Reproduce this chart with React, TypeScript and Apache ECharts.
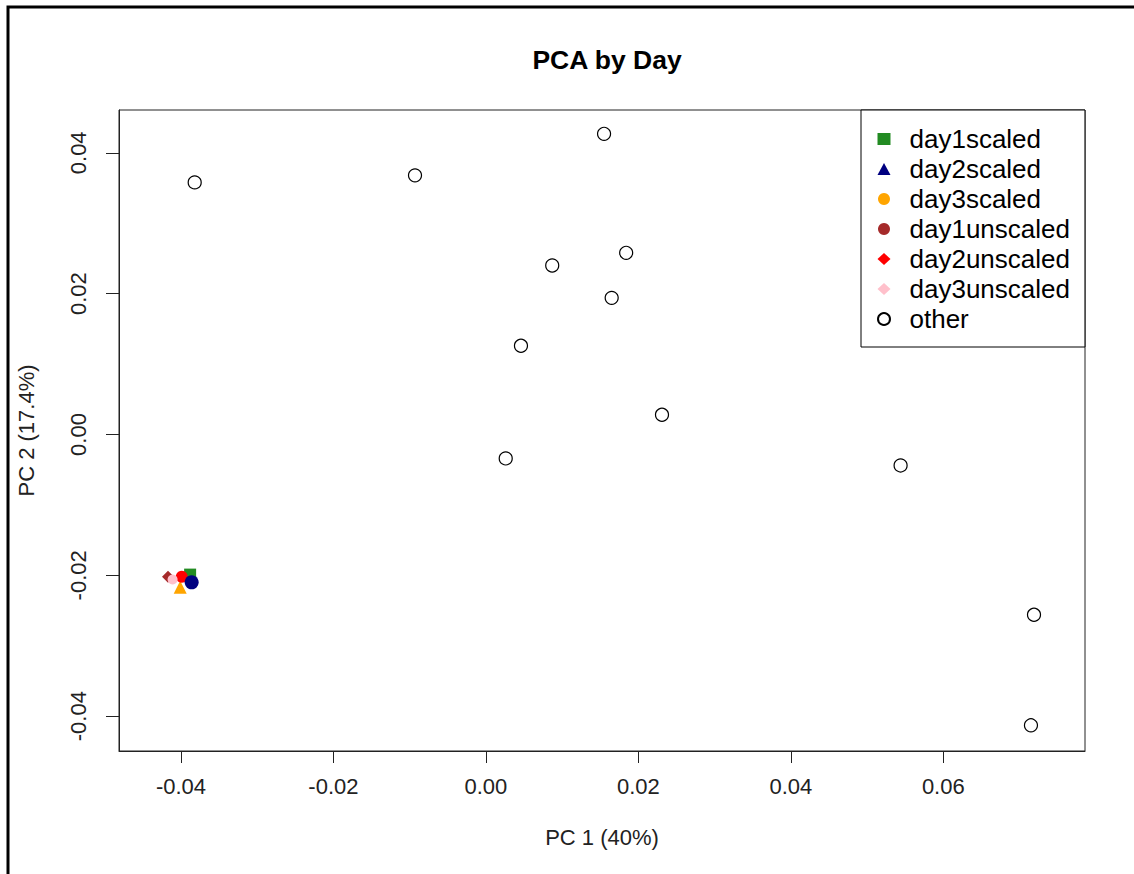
import React, { useEffect, useRef } from "react";
import * as echarts from "echarts";

const xTicks = [-0.04, -0.02, 0.0, 0.02, 0.04, 0.06];
const yTicks = [-0.04, -0.02, 0.0, 0.02, 0.04];

const otherX = [-0.0382, -0.0093, 0.0155, 0.0184, 0.0087, 0.0165, 0.0046, 0.0231, 0.0026, 0.0544, 0.0719, 0.0715];
const otherY = [0.0358, 0.0368, 0.0427, 0.0258, 0.024, 0.0194, 0.0126, 0.0028, -0.0034, -0.0044, -0.0256, -0.0413];

const groupNames = ["day1scaled", "day2scaled", "day3scaled", "day1unscaled", "day2unscaled", "day3unscaled"];
const groupX = [-0.0388, -0.0386, -0.0401, -0.0417, -0.0399, -0.0411];
const groupY = [-0.0199, -0.021, -0.0217, -0.0202, -0.0202, -0.0206];
const groupColors = ["#228B22", "#000080", "#FFA500", "#A52A2A", "#FF0000", "#FFC0CB"];
const plotSymbols = ["rect", "circle", "triangle", "diamond", "circle", "circle"];
const plotSizes = [12, 14, 13, 12, 12, 10];
const legendIcons = ["rect", "triangle", "circle", "circle", "diamond", "diamond"];
const drawOrder = [2, 0, 4, 3, 5, 1];

const FONT = "'Liberation Sans', Arial, sans-serif";

export default function App() {
  const ref = useRef<HTMLDivElement>(null);
  useEffect(() => {
    document.body.style.margin = "0";
    const chart = echarts.init(ref.current!, null, { renderer: "svg" });
    const groupSeries = drawOrder.map((i) => ({
      name: groupNames[i],
      type: "scatter",
      symbol: plotSymbols[i],
      symbolSize: plotSizes[i],
      itemStyle: { color: groupColors[i], opacity: 1 },
      data: [[groupX[i], groupY[i]]],
    }));
    const otherData = otherX.map((x, i) => [x, otherY[i]]);
    chart.setOption({
      animation: false,
      backgroundColor: "#fff",
      textStyle: { fontFamily: FONT },
      title: {
        text: "PCA by Day",
        left: 602,
        top: 41,
        textAlign: "center",
        textStyle: { fontFamily: FONT, fontSize: 26.5, fontWeight: "bold", color: "#000" },
      },
      grid: {
        left: 119,
        right: 49,
        top: 110,
        bottom: 123,
        show: true,
        borderColor: "#222",
        borderWidth: 1,
        containLabel: false,
      },
      xAxis: {
        type: "value",
        min: -0.04813,
        max: 0.07859,
        name: "PC 1 (40%)",
        nameLocation: "middle",
        nameGap: 75,
        nameTextStyle: { fontFamily: FONT, fontSize: 22, color: "#222" },
        axisLine: { show: true, onZero: false, lineStyle: { color: "#222" } },
        splitLine: { show: false },
        axisTick: { show: true, length: 12, customValues: xTicks, lineStyle: { color: "#222" } },
        axisLabel: {
          customValues: xTicks,
          margin: 24,
          fontFamily: FONT,
          fontSize: 22,
          color: "#222",
          formatter: (v: number) => v.toFixed(2),
        },
      },
      yAxis: {
        type: "value",
        min: -0.04495,
        max: 0.04608,
        name: "PC 2 (17.4%)",
        nameLocation: "middle",
        nameRotate: 90,
        nameGap: 82,
        nameTextStyle: { fontFamily: FONT, fontSize: 22, color: "#222" },
        axisLine: { show: true, onZero: false, lineStyle: { color: "#222" } },
        splitLine: { show: false },
        axisTick: { show: true, length: 13, customValues: yTicks, lineStyle: { color: "#222" } },
        axisLabel: {
          customValues: yTicks,
          rotate: 90,
          margin: 30,
          fontFamily: FONT,
          fontSize: 22,
          color: "#222",
          formatter: (v: number) => v.toFixed(2),
        },
      },
      legend: {
        orient: "vertical",
        left: 861,
        top: 110,
        padding: [14, 15, 13, 16],
        borderColor: "#000",
        borderWidth: 1,
        backgroundColor: "#fff",
        itemWidth: 13,
        itemHeight: 12,
        itemGap: 0,
        selectedMode: false,
        textStyle: { fontFamily: FONT, fontSize: 26, color: "#000", lineHeight: 30, padding: [0, 0, 0, 14] },
        data: [
          ...groupNames.map((n, i) => ({ name: n, icon: legendIcons[i] })),
          { name: "other", icon: "circle" },
        ],
      },
      graphic: [
        {
          type: "polyline",
          shape: { points: [[8, 874], [8, 7], [1134, 7]] },
          style: { stroke: "#000", lineWidth: 3, fill: "none" },
          z: 100,
        },
      ],
      series: [
        ...groupSeries,
        {
          name: "other",
          type: "scatter",
          symbol: "circle",
          symbolSize: 13,
          itemStyle: { color: "#fff", borderColor: "#000", borderWidth: 1.2, opacity: 1 },
          data: otherData,
        },
      ],
    });
    return () => chart.dispose();
  }, []);
  return <div ref={ref} style={{ width: 1134, height: 874 }} />;
}
